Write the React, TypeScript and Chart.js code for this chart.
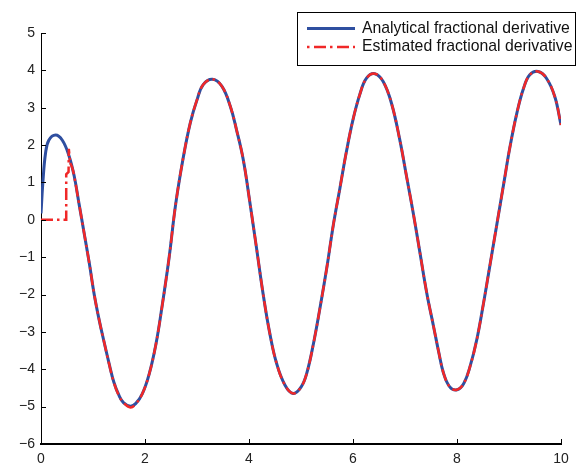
import React, { useEffect, useRef } from "react";
import { Chart, registerables } from "chart.js";

Chart.register(...registerables);

const seriesNames = ["Analytical fractional derivative", "Estimated fractional derivative"];

const analyticalX = [
  0, 0.035, 0.087, 0.15, 0.28, 0.41, 0.535, 0.64, 0.73, 0.83, 0.93, 1.02, 1.12, 1.22, 1.31, 1.4, 1.5, 1.59, 1.72, 1.82,
  1.95, 2.08, 2.21, 2.33, 2.46, 2.59, 2.74, 2.87, 3.0, 3.12, 3.3, 3.48, 3.64, 3.76, 3.89, 4.01, 4.14, 4.27, 4.4, 4.53,
  4.69, 4.85, 5.0, 5.11, 5.24, 5.37, 5.5, 5.62, 5.75, 5.87, 6.0, 6.13, 6.26, 6.42, 6.58, 6.74, 6.9, 7.03, 7.16, 7.29,
  7.42, 7.55, 7.65, 7.74, 7.86, 8.0, 8.13, 8.25, 8.38, 8.51, 8.64, 8.77, 8.9, 9.02, 9.15, 9.28, 9.4, 9.56, 9.72, 9.88,
  10.0,
];
const analyticalY = [
  0.17, 0.98, 1.78, 2.13, 2.27, 2.13, 1.73, 1.16, 0.44, -0.36, -1.17, -1.97, -2.69, -3.31, -3.85, -4.34, -4.7, -4.9,
  -4.99, -4.92, -4.65, -4.13, -3.33, -2.3, -1.05, 0.42, 1.7, 2.59, 3.21, 3.62, 3.76, 3.57, 3.04, 2.41, 1.61, 0.53, -0.71,
  -1.97, -3.04, -3.84, -4.42, -4.65, -4.48, -4.11, -3.31, -2.32, -1.25, -0.15, 0.86, 1.8, 2.68, 3.35, 3.79, 3.91, 3.7,
  3.12, 2.14, 1.16, 0.17, -0.9, -1.97, -2.86, -3.55, -4.1, -4.47, -4.55, -4.38, -3.93, -3.21, -2.23, -1.16, -0.09, 0.98,
  1.96, 2.85, 3.52, 3.88, 3.97, 3.79, 3.3, 2.54,
];

// Estimated series: initial step part (straight segments) ...
const estimatedStartX = [0, 0.485, 0.485, 0.53, 0.535, 0.56];
const estimatedStartY = [0, 0, 1.22, 1.28, 1.9, 1.52];
// ... and the smooth part that follows the analytical curve
const estimatedX = [
  0.56, 0.6, 0.64, 0.73, 0.83, 0.93, 1.02, 1.12, 1.22, 1.31, 1.4, 1.5, 1.59, 1.72, 1.82,
  1.95, 2.08, 2.21, 2.33, 2.46, 2.59, 2.74, 2.87, 3.0, 3.12, 3.3, 3.48, 3.64, 3.76, 3.89, 4.01, 4.14, 4.27, 4.4, 4.53,
  4.69, 4.85, 5.0, 5.11, 5.24, 5.37, 5.5, 5.62, 5.75, 5.87, 6.0, 6.13, 6.26, 6.42, 6.58, 6.74, 6.9, 7.03, 7.16, 7.29,
  7.42, 7.55, 7.65, 7.74, 7.86, 8.0, 8.13, 8.25, 8.38, 8.51, 8.64, 8.77, 8.9, 9.02, 9.15, 9.28, 9.4, 9.56, 9.72, 9.88,
  10.0,
];
const estimatedY = [
  1.52, 1.4, 1.16, 0.44, -0.36, -1.17, -1.97, -2.69, -3.31, -3.86, -4.35, -4.71, -4.9,
  -5.02, -4.93, -4.65, -4.13, -3.33, -2.3, -1.05, 0.42, 1.7, 2.59, 3.21, 3.62, 3.76, 3.57, 3.04, 2.41, 1.61, 0.53, -0.71,
  -1.97, -3.04, -3.84, -4.42, -4.65, -4.48, -4.11, -3.31, -2.32, -1.25, -0.15, 0.86, 1.8, 2.68, 3.35, 3.79, 3.91, 3.7,
  3.12, 2.14, 1.16, 0.17, -0.9, -1.97, -2.86, -3.55, -4.1, -4.47, -4.55, -4.38, -3.93, -3.21, -2.23, -1.16, -0.09, 0.98,
  1.96, 2.85, 3.52, 3.88, 3.97, 3.79, 3.3, 2.54,
];

const xTickValues = [0, 2, 4, 6, 8, 10];
const yTickValues = [-6, -5, -4, -3, -2, -1, 0, 1, 2, 3, 4, 5];

const W = 576;
const H = 467;
const PLOT_LEFT = 41;
const PLOT_RIGHT = 561;
const PLOT_TOP = 33;
const PLOT_BOTTOM = 444;

const BLUE = "#2f4fa0";
const RED = "#f02828";
const DASH = [12, 4, 2.5, 4];
const FONT = "Liberation Sans, Arial, Helvetica, sans-serif";

const axesPlugin = {
  id: "matlabAxes",
  afterDatasetsDraw(chart: any) {
    const ctx = chart.ctx;
    const xs = chart.scales.x;
    const ys = chart.scales.y;
    const area = chart.chartArea;
    ctx.save();
    ctx.strokeStyle = "#000";
    ctx.lineWidth = 1;
    ctx.beginPath();
    for (const v of xTickValues) {
      const px = Math.round(xs.getPixelForValue(v)) + 0.5;
      ctx.moveTo(px, area.bottom);
      ctx.lineTo(px, area.bottom - 5);
    }
    for (const v of yTickValues) {
      const py = Math.round(ys.getPixelForValue(v)) + 0.5;
      ctx.moveTo(area.left, py);
      ctx.lineTo(area.left + 5, py);
    }
    ctx.stroke();
    ctx.restore();
  },
  afterDraw(chart: any) {
    const ctx = chart.ctx;
    ctx.save();
    const bx = 297.5;
    const by = 12.5;
    const bw = 278;
    const bh = 53;
    ctx.fillStyle = "#fff";
    ctx.fillRect(bx, by, bw, bh);
    ctx.strokeStyle = "#000";
    ctx.lineWidth = 1;
    ctx.strokeRect(bx, by, bw, bh);
    const rows = [28.5, 47];
    const colors = [BLUE, RED];
    for (let i = 0; i < 2; i++) {
      ctx.beginPath();
      ctx.strokeStyle = colors[i];
      ctx.lineWidth = i === 0 ? 3 : 2.5;
      ctx.setLineDash(i === 0 ? [] : [2.5, 4.5, 12, 4]);
      ctx.moveTo(307, rows[i]);
      ctx.lineTo(355, rows[i]);
      ctx.stroke();
    }
    ctx.setLineDash([]);
    ctx.fillStyle = "#111";
    ctx.textBaseline = "middle";
    ctx.textAlign = "left";
    let size = 14;
    ctx.font = `${size}px ${FONT}`;
    const w = ctx.measureText(seriesNames[0]).width;
    size = (size * 208) / w;
    ctx.font = `${size}px ${FONT}`;
    for (let i = 0; i < 2; i++) {
      ctx.fillText(seriesNames[i], 362, rows[i]);
    }
    ctx.restore();
  },
};

export default function App() {
  const canvasRef = useRef<HTMLCanvasElement | null>(null);

  useEffect(() => {
    if (!canvasRef.current) return;
    const analytical = analyticalX.map((x, i) => ({ x, y: analyticalY[i] }));
    const estStart = estimatedStartX.map((x, i) => ({ x, y: estimatedStartY[i] }));
    const estimated = estimatedX.map((x, i) => ({ x, y: estimatedY[i] }));
    const chart = new Chart(canvasRef.current, {
      type: "line",
      data: {
        datasets: [
          {
            label: seriesNames[1],
            data: estStart,
            borderColor: RED,
            borderWidth: 2.5,
            borderDash: DASH,
            pointRadius: 0,
            fill: false,
            tension: 0,
            order: 1,
          },
          {
            label: seriesNames[1] + " ",
            data: estimated,
            borderColor: RED,
            borderWidth: 2.5,
            borderDash: DASH,
            pointRadius: 0,
            fill: false,
            tension: 0.4,
            order: 1,
          },
          {
            label: seriesNames[0],
            data: analytical,
            borderColor: BLUE,
            borderWidth: 3,
            pointRadius: 0,
            fill: false,
            tension: 0.4,
            order: 2,
          },
        ],
      },
      options: {
        animation: false,
        responsive: false,
        devicePixelRatio: 1,
        layout: { padding: { top: PLOT_TOP, right: W - PLOT_RIGHT, left: 0, bottom: 0 } },
        plugins: {
          legend: { display: false },
          tooltip: { enabled: false },
          title: { display: false },
        },
        scales: {
          x: {
            type: "linear",
            min: 0,
            max: 10,
            afterBuildTicks: (s: any) => {
              s.ticks = xTickValues.map((v) => ({ value: v }));
            },
            ticks: {
              autoSkip: false,
              maxRotation: 0,
              padding: 7,
              color: "#222",
              font: { family: FONT, size: 14 },
            },
            grid: { display: false, drawTicks: false },
            border: { display: true, color: "#000", width: 2 },
            afterFit: (s: any) => {
              s.height = H - PLOT_BOTTOM;
              s.paddingLeft = 0;
              s.paddingRight = 0;
            },
          },
          y: {
            type: "linear",
            min: -6,
            max: 5,
            afterBuildTicks: (s: any) => {
              s.ticks = yTickValues.map((v) => ({ value: v }));
            },
            ticks: {
              autoSkip: false,
              padding: 6,
              color: "#222",
              font: { family: FONT, size: 14 },
              callback: (v: any) => (Number(v) < 0 ? "\u2212" + Math.abs(Number(v)) : String(v)),
            },
            grid: { display: false, drawTicks: false },
            border: { display: true, color: "#000", width: 1 },
            afterFit: (s: any) => {
              s.width = PLOT_LEFT;
              s.paddingTop = 0;
              s.paddingBottom = 0;
            },
          },
        },
      },
      plugins: [axesPlugin],
    });
    return () => chart.destroy();
  }, []);

  return (
    <div style={{ position: "absolute", left: 0, top: 0, width: W, height: H, background: "#fff" }}>
      <canvas ref={canvasRef} width={W} height={H} style={{ width: W, height: H, display: "block" }} />
    </div>
  );
}
